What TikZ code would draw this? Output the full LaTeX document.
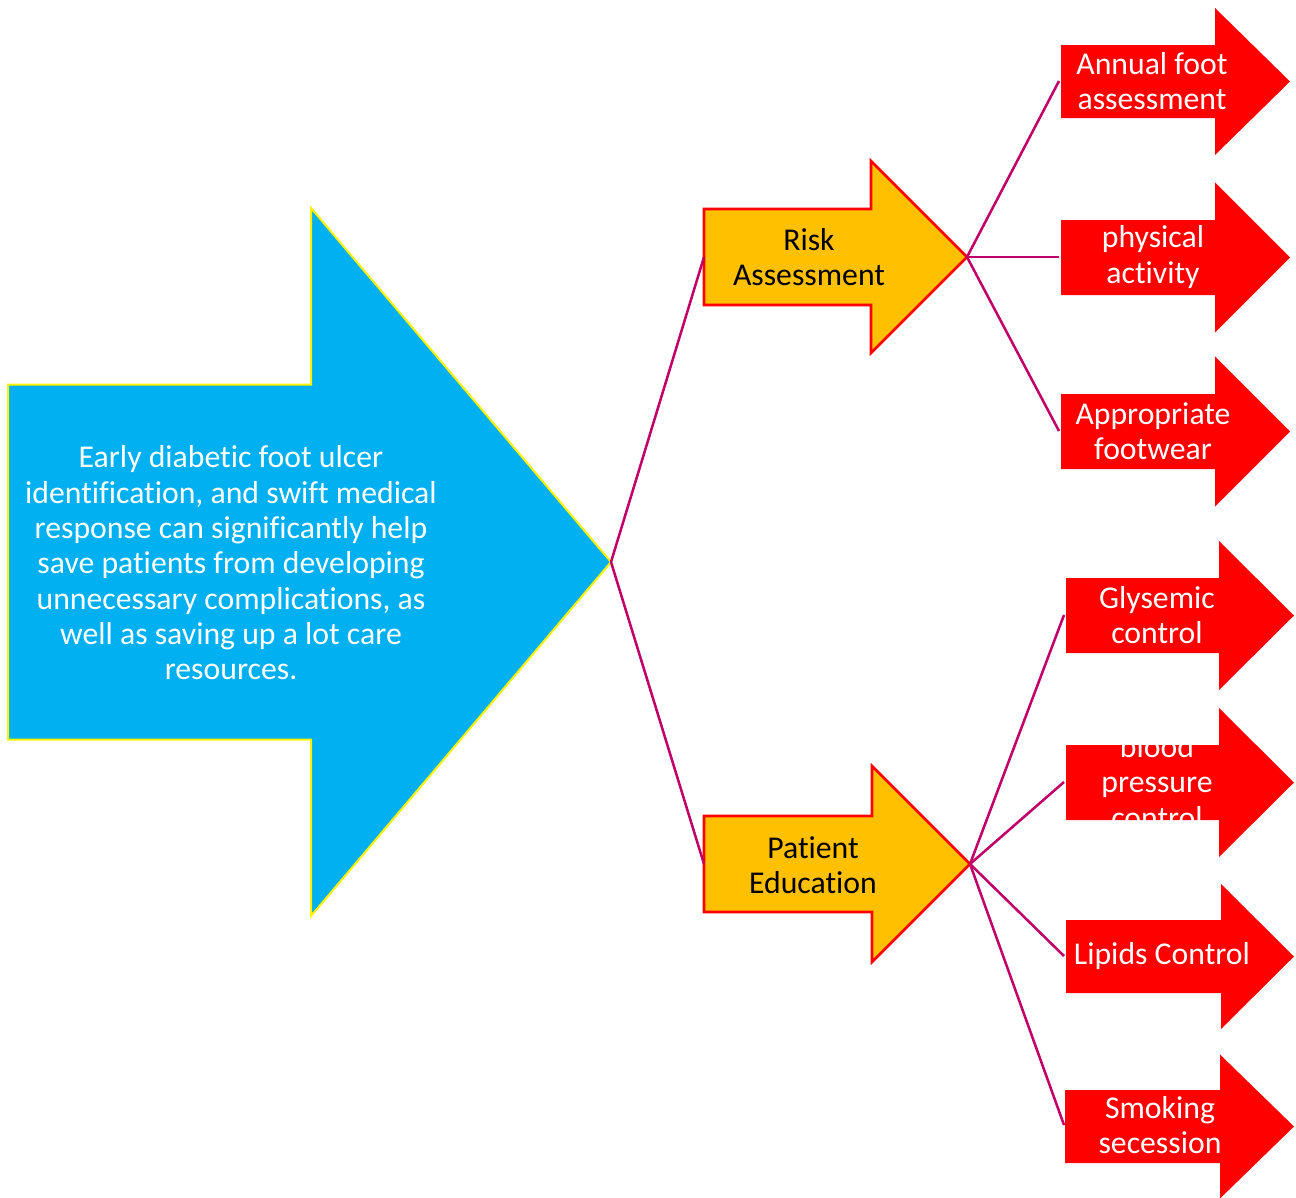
\documentclass[tikz,border=0pt]{standalone}
\usepackage{fontspec}
\setmainfont{Carlito}[Ligatures=NoCommon]
\usepackage{tikz}
\usetikzlibrary{positioning}

% arrow outline: style, left x, middle y, half shaft, neck x, half head, tip x
\newcommand{\shapearrow}[7]{%
  \path[#1] (#2,#3-#4) -- (#5,#3-#4) -- (#5,#3-#6) -- (#7,#3)
    -- (#5,#3+#6) -- (#5,#3+#4) -- (#2,#3+#4) -- cycle;}

\definecolor{mainblue}{HTML}{00B0F0}
\definecolor{stepgold}{HTML}{FFC000}
\definecolor{linkred}{HTML}{C00068}

\begin{document}
\begin{tikzpicture}[
    x=0.75pt, y=-0.75pt,
    mainarrow/.style={fill=mainblue, draw=yellow, line width=1.5pt},
    goldarrow/.style={fill=stepgold, draw=red, line width=2pt},
    redarrow/.style={fill=red},
    label/.style={align=center, font=\fontsize{23.8}{26.5}\selectfont, inner sep=0pt},
    whitelabel/.style={label, text=white},
    link/.style={draw=linkred, line width=1.9pt},
]
\useasboundingbox (0,0) rectangle (1296,1197);

% Shapes
\shapearrow{mainarrow}{8}{562}{177.5}{311}{354}{611}
\shapearrow{goldarrow}{704}{257}{48}{871}{96}{967}
\shapearrow{goldarrow}{704}{864}{48}{872}{98}{970}

\shapearrow{redarrow}{1061}{81.5}{36.5}{1215}{73.5}{1290}
\shapearrow{redarrow}{1061}{257.5}{37.5}{1215}{75}{1290}
\shapearrow{redarrow}{1061}{431.5}{37.5}{1215}{75}{1290}
\shapearrow{redarrow}{1066}{615.5}{37.5}{1219}{74.5}{1294}
\shapearrow{redarrow}{1066}{782.5}{37.5}{1219}{74.5}{1294}
\shapearrow{redarrow}{1066}{956.5}{36.5}{1221}{72.5}{1294}
\shapearrow{redarrow}{1065}{1126.5}{36.5}{1220}{72}{1294}

% Anchor points
\coordinate (main-tip) at (611,562);
\coordinate (risk-in) at (704,257);
\coordinate (risk-tip) at (967,257);
\coordinate (edu-in) at (704,864);
\coordinate (edu-tip) at (970,864);
\coordinate (annual-in) at (1059,81);
\coordinate (physical-in) at (1059,257);
\coordinate (footwear-in) at (1059,431);
\coordinate (glysemic-in) at (1064,615);
\coordinate (pressure-in) at (1064,782);
\coordinate (lipids-in) at (1064,956);
\coordinate (smoking-in) at (1064,1125);

% Connectors
\draw[link] (main-tip) -- (risk-in);
\draw[link] (main-tip) -- (edu-in);
\draw[link] (risk-tip) -- (annual-in);
\draw[link] (risk-tip) -- (physical-in);
\draw[link] (risk-tip) -- (footwear-in);
\draw[link] (edu-tip) -- (glysemic-in);
\draw[link] (edu-tip) -- (pressure-in);
\draw[link] (edu-tip) -- (lipids-in);
\draw[link] (edu-tip) -- (smoking-in);

% Texts
\node[whitelabel] (main) at (231,563) {Early diabetic foot ulcer\\identification, and swift medical\\response can significantly help\\save patients from developing\\unnecessary complications, as\\well as saving up a lot care\\resources.};
\node[label] (risk) at (809,257) {Risk\\Assessment};
\node[label] (edu) at (813,865) {Patient\\Education};
\node[whitelabel] (annual) at (1152,81) {Annual foot\\assessment};
\node[whitelabel] (physical) at (1153,257) {physical\\activity};
\node[whitelabel] (footwear) at (1153,431) {Appropriate\\footwear};
\node[whitelabel] (glysemic) at (1157,615) {Glysemic\\control};
\node[whitelabel] (pressure) at (1157,782) {blood\\pressure\\control};
\node[whitelabel] (lipids) at (1162,956) {Lipids Control};
\node[whitelabel] (smoking) at (1160,1125) {Smoking\\secession};

\end{tikzpicture}
\end{document}
